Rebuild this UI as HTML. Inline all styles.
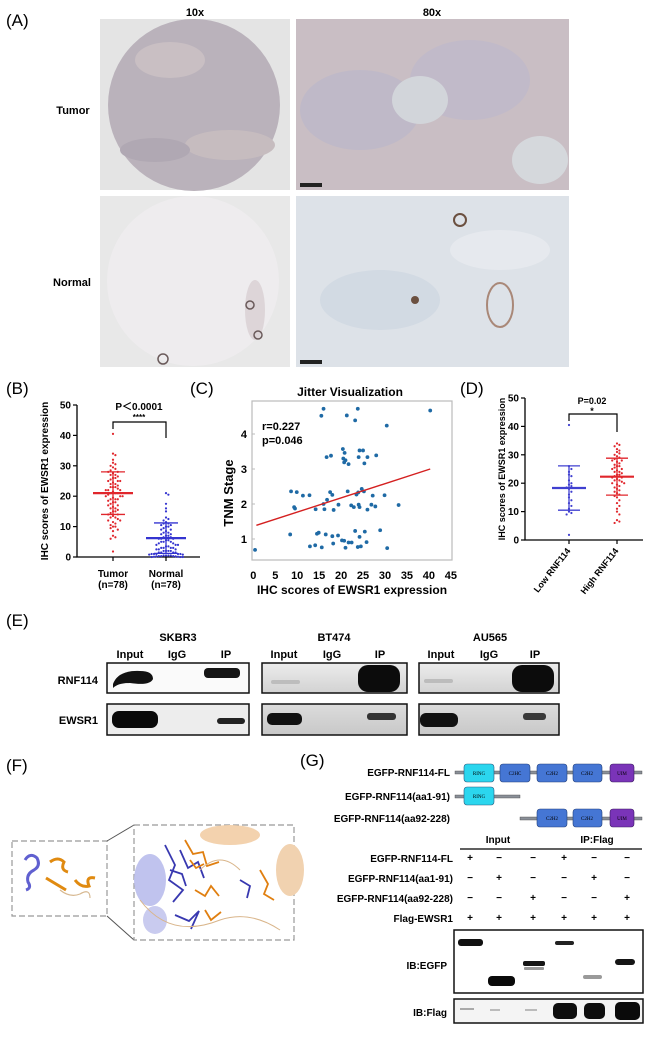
<!DOCTYPE html>
<html><head><meta charset="utf-8">
<style>
html,body{margin:0;padding:0;background:#fff;}
svg{display:block;font-family:"Liberation Sans",Arial,sans-serif;}
.b{font-weight:bold;}
</style></head>
<body>
<svg id="fig" width="654" height="1038" viewBox="0 0 654 1038" xmlns="http://www.w3.org/2000/svg">
<defs>
<linearGradient id="gE" x1="0" y1="0" x2="0" y2="1"><stop offset="0" stop-color="#ececec"/><stop offset="1" stop-color="#d2d2d2"/></linearGradient>
<linearGradient id="gE2" x1="0" y1="0" x2="0" y2="1"><stop offset="0" stop-color="#dcdcdc"/><stop offset="1" stop-color="#c8c8c8"/></linearGradient>
</defs>

<!-- Panel A -->
<g>
<text x="6" y="26" font-size="17">(A)</text>
<text x="195" y="16" font-size="11" class="b" text-anchor="middle">10x</text>
<text x="432" y="16" font-size="11" class="b" text-anchor="middle">80x</text>
<text x="73" y="114" font-size="11" class="b" text-anchor="middle">Tumor</text>
<text x="72" y="286" font-size="11" class="b" text-anchor="middle">Normal</text>
<g>
<rect x="100" y="19" width="190" height="171" fill="#e4e4e4"/>
<ellipse cx="194" cy="105" rx="86" ry="86" fill="#bab2bb"/>
<ellipse cx="170" cy="60" rx="35" ry="18" fill="#c9bfc3"/>
<ellipse cx="230" cy="145" rx="45" ry="15" fill="#c6bcbf"/>
<ellipse cx="155" cy="150" rx="35" ry="12" fill="#b0a8b3"/>
</g>
<g>
<rect x="296" y="19" width="273" height="171" fill="#c9bec4"/>
<ellipse cx="360" cy="110" rx="60" ry="40" fill="#bfb9c8"/>
<ellipse cx="470" cy="80" rx="60" ry="40" fill="#c1bac9"/>
<ellipse cx="420" cy="100" rx="28" ry="24" fill="#d2d5da"/>
<ellipse cx="540" cy="160" rx="28" ry="24" fill="#d5d8dc"/>
<rect x="300" y="183" width="22" height="4" fill="#222"/>
</g>
<g>
<rect x="100" y="196" width="190" height="171" fill="#e8e8e8"/>
<ellipse cx="193" cy="281" rx="86" ry="85" fill="#eeecee"/>
<ellipse cx="255" cy="310" rx="10" ry="30" fill="#ddd5d8"/>
<circle cx="250" cy="305" r="4" fill="none" stroke="#6a5a5a" stroke-width="1.5"/>
<circle cx="258" cy="335" r="4" fill="none" stroke="#6a5a5a" stroke-width="1.5"/>
<circle cx="163" cy="359" r="5" fill="none" stroke="#6a5a5a" stroke-width="1.5"/>
</g>
<g>
<rect x="296" y="196" width="273" height="171" fill="#dde2e8"/>
<ellipse cx="380" cy="300" rx="60" ry="30" fill="#d2dae3"/>
<ellipse cx="500" cy="250" rx="50" ry="20" fill="#e6e9ee"/>
<ellipse cx="500" cy="305" rx="13" ry="22" fill="none" stroke="#a98878" stroke-width="2"/>
<circle cx="460" cy="220" r="6" fill="none" stroke="#6b5040" stroke-width="2"/>
<circle cx="415" cy="300" r="4" fill="#6b5040"/>
<rect x="300" y="360" width="22" height="4" fill="#222"/>
</g>
</g>

<!-- Panel B -->
<g id="pB">
<text x="6" y="394" font-size="17">(B)</text>
<text transform="translate(48,481) rotate(-90)" font-size="10" class="b" text-anchor="middle">IHC scores of EWSR1 expression</text>
<text x="113" y="577" font-size="10" class="b" text-anchor="middle">Tumor</text>
<text x="113" y="588" font-size="10" class="b" text-anchor="middle">(n=78)</text>
<text x="166" y="577" font-size="10" class="b" text-anchor="middle">Normal</text>
<text x="166" y="588" font-size="10" class="b" text-anchor="middle">(n=78)</text>
<text x="139" y="410" font-size="10" class="b" text-anchor="middle">P＜0.0001</text>
<text x="139" y="420" font-size="8" class="b" text-anchor="middle">****</text>
<path d="M113,429 V422 H166 V438" fill="none" stroke="#000" stroke-width="1.2"/>
</g>

<!-- Panel C -->
<g id="pC">
<text x="190" y="394" font-size="17">(C)</text>
<text x="350" y="396" font-size="12" class="b" text-anchor="middle">Jitter Visualization</text>
<rect x="252" y="401" width="200" height="159" fill="none" stroke="#bbb" stroke-width="1.2"/>
<text transform="translate(233,493) rotate(-90)" font-size="13" class="b" text-anchor="middle">TNM Stage</text>
<text x="352" y="594" font-size="12" class="b" text-anchor="middle">IHC scores of EWSR1 expression</text>
<text x="262" y="430" font-size="11" class="b">r=0.227</text>
<text x="262" y="444" font-size="11" class="b">p=0.046</text>
</g>

<!-- Panel D -->
<g id="pD">
<text x="460" y="394" font-size="17">(D)</text>
<text transform="translate(505,469) rotate(-90)" font-size="9" class="b" text-anchor="middle">IHC scores of EWSR1 expression</text>
<text x="592" y="404" font-size="9" class="b" text-anchor="middle">P=0.02</text>
<text x="592" y="414" font-size="9" class="b" text-anchor="middle">*</text>
<path d="M569,421 V414 H617 V432" fill="none" stroke="#000" stroke-width="1.2"/>
<text transform="translate(571,551) rotate(-52)" font-size="9" class="b" text-anchor="end">Low RNF114</text>
<text transform="translate(619,551) rotate(-52)" font-size="9" class="b" text-anchor="end">High RNF114</text>
</g>

<!-- Panel E -->
<g>
<text x="6" y="626" font-size="17">(E)</text>
<text x="178" y="641" font-size="11" class="b" text-anchor="middle">SKBR3</text>
<text x="334" y="641" font-size="11" class="b" text-anchor="middle">BT474</text>
<text x="490" y="641" font-size="11" class="b" text-anchor="middle">AU565</text>
<g font-size="11" class="b" text-anchor="middle">
<text x="130" y="658">Input</text><text x="177" y="658">IgG</text><text x="226" y="658">IP</text>
<text x="284" y="658">Input</text><text x="332" y="658">IgG</text><text x="380" y="658">IP</text>
<text x="441" y="658">Input</text><text x="489" y="658">IgG</text><text x="535" y="658">IP</text>
</g>
<text x="98" y="684" font-size="11" class="b" text-anchor="end">RNF114</text>
<text x="98" y="724" font-size="11" class="b" text-anchor="end">EWSR1</text>
<g>
<rect x="107" y="663" width="142" height="30" fill="#fafafa" stroke="#111" stroke-width="1.5"/>
<rect x="107" y="704" width="142" height="31" fill="#ededed" stroke="#111" stroke-width="1.5"/>
<path d="M113,684 Q118,670 140,671 Q153,671 153,679 Q150,686 130,683 Q118,683 113,688Z" fill="#111"/>
<rect x="204" y="668" width="36" height="10" rx="4" fill="#151515"/>
<rect x="112" y="711" width="46" height="17" rx="7" fill="#0a0a0a"/>
<rect x="217" y="718" width="28" height="6" rx="3" fill="#222"/>
</g>
<g>
<rect x="262" y="663" width="145" height="30" fill="url(#gE)" stroke="#111" stroke-width="1.5"/>
<rect x="262" y="704" width="145" height="31" fill="url(#gE2)" stroke="#111" stroke-width="1.5"/>
<rect x="271" y="680" width="29" height="4" rx="2" fill="#bdbdbd"/>
<rect x="358" y="665" width="42" height="27" rx="10" fill="#0c0c0c"/>
<rect x="267" y="713" width="35" height="12" rx="5" fill="#111"/>
<rect x="367" y="713" width="29" height="7" rx="3" fill="#333"/>
</g>
<g>
<rect x="419" y="663" width="140" height="30" fill="url(#gE)" stroke="#111" stroke-width="1.5"/>
<rect x="419" y="704" width="140" height="31" fill="url(#gE2)" stroke="#111" stroke-width="1.5"/>
<rect x="424" y="679" width="29" height="4" rx="2" fill="#bcbcbc"/>
<rect x="512" y="665" width="42" height="27" rx="10" fill="#0c0c0c"/>
<rect x="420" y="713" width="38" height="14" rx="6" fill="#111"/>
<rect x="523" y="713" width="23" height="7" rx="3" fill="#3a3a3a"/>
</g>
</g>

<!-- Panel F -->
<g>
<text x="6" y="771" font-size="17">(F)</text>
<rect x="12" y="841" width="95" height="75" fill="none" stroke="#999" stroke-width="1.2" stroke-dasharray="6,3"/>
<path d="M107,841 L134,825 M107,916 L134,940" stroke="#555" stroke-width="1"/>
<rect x="134" y="825" width="160" height="115" fill="none" stroke="#999" stroke-width="1.2" stroke-dasharray="6,3"/>
<g>
<path d="M25,860 q5,-8 12,-2 q4,8 -3,12 q-8,4 -6,12 q4,6 -2,8" stroke="#6060d0" stroke-width="3" fill="none"/>
<path d="M50,862 q8,-6 14,0 q-4,8 4,10 M46,878 l20,12 M75,880 q6,8 14,6 q-4,-10 6,-8" stroke="#e08a10" stroke-width="3" fill="none"/>
<path d="M60,890 q10,8 20,4 q10,-6 10,4" stroke="#d7b890" stroke-width="1.2" fill="none"/>
</g>
<g>
<ellipse cx="150" cy="880" rx="16" ry="26" fill="#c0c3ee"/>
<ellipse cx="155" cy="920" rx="12" ry="14" fill="#c9cbef"/>
<ellipse cx="230" cy="835" rx="30" ry="10" fill="#f3d2ae"/>
<ellipse cx="290" cy="870" rx="14" ry="26" fill="#f1d2b0"/>
<path d="M165,845 l10,20 l-6,15 l14,10 l-10,12 M180,850 l8,18 l10,-6 l6,16 M175,915 l14,6 l10,-10 l-8,18 M240,880 l10,6 l-3,12 M170,870 l12,4 l4,12" stroke="#3838b0" stroke-width="1.8" fill="none"/>
<path d="M185,840 l8,14 l10,-2 l4,14 l12,-4 M195,890 l10,6 l6,-10 l8,10 M205,910 l6,10 l10,-8 M260,870 l8,14 l-4,10 l10,6 M190,860 l6,8 l8,-4" stroke="#e07f10" stroke-width="1.8" fill="none"/>
<path d="M140,900 q30,40 80,20 q30,-10 60,10 M200,870 q20,-20 40,0" stroke="#d9b58a" stroke-width="1" fill="none"/>
</g>
</g>

<!-- Panel G -->
<g>
<text x="300" y="766" font-size="17">(G)</text>
<g font-size="10" class="b" text-anchor="end">
<text x="450" y="776">EGFP-RNF114-FL</text>
<text x="450" y="800">EGFP-RNF114(aa1-91)</text>
<text x="450" y="822">EGFP-RNF114(aa92-228)</text>
</g>
<g font-size="5" font-family="Liberation Serif,serif" text-anchor="middle">
<rect x="455" y="771" width="187" height="3" fill="#8a9098" stroke="#444" stroke-width="0.4"/>
<rect x="464" y="764" width="30" height="18" rx="3" fill="#2bd6ee" stroke="#2a5a80" stroke-width="0.6"/><text x="479" y="775">RING</text>
<rect x="500" y="764" width="30" height="18" rx="3" fill="#4576d4" stroke="#24407a" stroke-width="0.6"/><text x="515" y="775">C2HC</text>
<rect x="537" y="764" width="30" height="18" rx="3" fill="#4576d4" stroke="#24407a" stroke-width="0.6"/><text x="552" y="775">C2H2</text>
<rect x="573" y="764" width="29" height="18" rx="3" fill="#4576d4" stroke="#24407a" stroke-width="0.6"/><text x="587" y="775">C2H2</text>
<rect x="610" y="764" width="24" height="18" rx="3" fill="#7a34b8" stroke="#3a1a60" stroke-width="0.6"/><text x="622" y="775">UIM</text>
<rect x="455" y="795" width="65" height="3" fill="#8a9098" stroke="#444" stroke-width="0.4"/>
<rect x="464" y="787" width="30" height="18" rx="3" fill="#2bd6ee" stroke="#2a5a80" stroke-width="0.6"/><text x="479" y="798">RING</text>
<rect x="520" y="817" width="122" height="3" fill="#8a9098" stroke="#444" stroke-width="0.4"/>
<rect x="537" y="809" width="30" height="18" rx="3" fill="#4576d4" stroke="#24407a" stroke-width="0.6"/><text x="552" y="820">C2H2</text>
<rect x="573" y="809" width="29" height="18" rx="3" fill="#4576d4" stroke="#24407a" stroke-width="0.6"/><text x="587" y="820">C2H2</text>
<rect x="610" y="809" width="24" height="18" rx="3" fill="#7a34b8" stroke="#3a1a60" stroke-width="0.6"/><text x="622" y="820">UIM</text>
</g>
<text x="498" y="843" font-size="10" class="b" text-anchor="middle">Input</text>
<text x="597" y="843" font-size="10" class="b" text-anchor="middle">IP:Flag</text>
<line x1="460" y1="849" x2="642" y2="849" stroke="#000" stroke-width="1.2"/>
<g font-size="10" class="b" text-anchor="end">
<text x="453" y="862">EGFP-RNF114-FL</text>
<text x="453" y="882">EGFP-RNF114(aa1-91)</text>
<text x="453" y="902">EGFP-RNF114(aa92-228)</text>
<text x="453" y="922">Flag-EWSR1</text>
</g>
<g id="gSigns" font-size="10" class="b" text-anchor="middle"></g>
<text x="447" y="969" font-size="10" class="b" text-anchor="end">IB:EGFP</text>
<text x="447" y="1016" font-size="10" class="b" text-anchor="end">IB:Flag</text>
<g>
<rect x="454" y="930" width="189" height="63" fill="#fff" stroke="#111" stroke-width="1.5"/>
<rect x="458" y="939" width="25" height="7" rx="3" fill="#111"/>
<rect x="488" y="976" width="27" height="10" rx="4" fill="#0a0a0a"/>
<rect x="523" y="961" width="22" height="5" rx="2" fill="#151515"/>
<rect x="524" y="967" width="20" height="3" rx="1" fill="#999"/>
<rect x="555" y="941" width="19" height="4" rx="2" fill="#222"/>
<rect x="583" y="975" width="19" height="4" rx="2" fill="#9a9a9a"/>
<rect x="615" y="959" width="20" height="6" rx="3" fill="#151515"/>
</g>
<g>
<rect x="454" y="999" width="189" height="24" fill="#f4f4f4" stroke="#111" stroke-width="1.5"/>
<rect x="460" y="1008" width="14" height="2" fill="#aaa"/>
<rect x="490" y="1009" width="10" height="2" fill="#bbb"/>
<rect x="525" y="1009" width="12" height="2" fill="#bbb"/>
<rect x="553" y="1003" width="24" height="16" rx="5" fill="#0e0e0e"/>
<rect x="584" y="1003" width="21" height="16" rx="5" fill="#0e0e0e"/>
<rect x="615" y="1002" width="25" height="18" rx="5" fill="#0a0a0a"/>
</g>
</g>
</svg>

<script>
const NS="http://www.w3.org/2000/svg";
// ---- Panel B data ----
const bCategories=["Tumor","Normal"];
const bTicks=[0,10,20,30,40,50];
const bTumor=[40.5,34,33.5,32,31,30.5,30,29.5,29,28.5,28,28,27.5,27,27,26.5,26,26,25.5,25,25,25,24.5,24,24,23.5,23,23,23,22.5,22,22,22,21.5,21,21,21,20.5,20,20,20,19.5,19,19,19,18.5,18,18,17.5,17,17,16.5,16,16,15.5,15,15,14.5,14,14,13.5,13,13,12.5,12,12,11.5,11,10.5,10,10,9.5,9,8.5,7,6.5,6,1.8];
const bNormal=[21,20.5,17.5,16,15,13,12.5,12,11.5,11,11,10.5,10.5,10,10,9.5,9,9,8.5,8,8,7.5,7.5,7,7,6.5,6.5,6,6,6,5.5,5.5,5,5,5,4.5,4.5,4,4,4,3.5,3.5,3,3,3,3,2.5,2.5,2.5,2,2,2,2,1.5,1.5,1.5,1.5,1,1,1,1,1,0.8,0.8,0.5,0.5,0.5,0.5,0.3,0.3,0.3,0.2,0.2,0.1,0.1,0,0,0];
const bMean=[21,6.2];
const bSD=[7,5];
// ---- Panel C data ----
const cXTicks=[0,5,10,15,20,25,30,35,40,45];
const cYTicks=[1,2,3,4];
const cScore=[0.4,16,15.5,21.3,23.8,23.2,40.3,30.4,16.7,17.7,20.4,20.8,20.5,21,21.7,20.7,24.2,25,24,25.3,26,28,8.6,9.9,11.3,12.8,9.3,9.5,14.2,16.2,16,16.8,17.5,18,18.3,19.4,21.5,22.3,22.9,23.5,24,24.2,24.7,25.2,26,26.9,27.2,27.8,29.9,33.1,23.9,8.4,12.9,14.1,14.5,14.9,15.6,16.5,18,18.2,19.3,20.2,20.7,21,21.7,22.4,23.2,23.8,24.5,24.2,25.4,25.8,28.9,30.5];
const cStage=[0.69,4.72,4.52,4.53,4.72,4.39,4.67,4.24,3.34,3.38,3.57,3.46,3.30,3.25,3.14,3.19,3.53,3.53,3.34,3.16,3.34,3.39,2.36,2.34,2.24,2.25,1.91,1.87,1.85,1.85,2.0,2.12,2.34,2.26,1.83,1.98,2.36,1.96,1.91,2.27,1.98,1.91,2.43,2.36,1.84,1.98,2.24,1.93,2.25,1.97,2.33,1.13,0.79,0.82,1.15,1.18,0.76,1.13,1.08,0.87,1.1,0.96,0.95,0.75,0.9,0.9,1.23,0.77,0.79,1.06,1.21,0.91,1.25,0.74];
const cFitX=[0.7,40.3];
const cFitY=[1.39,3.0];
// ---- Panel D data ----
const dCategories=["Low RNF114","High RNF114"];
const dTicks=[0,10,20,30,40,50];
const dLow=[40.5,26,25,24,23,22.5,21,20,19.5,19,18.5,18,17,16,15,14,13,12,11,10,9.5,9,1.8];
const dHigh=[34,33.5,33,32,31.5,31,30.5,30,29.5,29,28.5,28,28,27.5,27,26.5,26,26,25.5,25,25,24.5,24,24,23.5,23,23,22.5,22,22,21.5,21,21,20.5,20,20,19.5,19,18.5,18,17.5,17,16.5,16,15.5,15,14,13,12,11,10,9,7,6.5,6];
const dMean=[18.3,22.3];
const dSD=[7.8,6.5];
// ---- Panel G data ----
const gSigns=[["+","−","−","+","−","−"],["−","+","−","−","+","−"],["−","−","+","−","−","+"],["+","+","+","+","+","+"]];

function mk(tag,attrs,parent){const e=document.createElementNS(NS,tag);for(const k in attrs)e.setAttribute(k,attrs[k]);parent.appendChild(e);return e;}

function dotPlot(g,opts){
  const y=v=>opts.y0-(v/50)*(opts.y0-opts.y50);
  const ax=mk("path",{d:`M${opts.ax},${opts.y50} V${opts.y0} H${opts.axEnd}`,fill:"none",stroke:"#000","stroke-width":1.3},g);
  
  
  opts.ticks.forEach(t=>{
    const tk=mk("line",{x1:opts.ax-4,x2:opts.ax,y1:y(t),y2:y(t),stroke:"#000","stroke-width":1.2},g);
    
    
    const tl=mk("text",{x:opts.ax-6,y:y(t)+3.5,"font-size":10,"font-weight":"bold","text-anchor":"end"},g);
    tl.textContent=t;
    
    
  });
  opts.cats.forEach((c,ci)=>{
    const cx=opts.xs[ci];
    const tk=mk("line",{x1:cx,x2:cx,y1:opts.y0,y2:opts.y0+4,stroke:"#000","stroke-width":1.2},g);
    
    
    const vals=opts.series[ci];
    const counts={};
    vals.forEach((v,i)=>{
      const bin=Math.round(v/1.6);
      const k=counts[bin]||0;counts[bin]=k+1;
      const off=(k%2?1:-1)*Math.ceil(k/2)*2.4;
      const d=mk("circle",{cx:cx+off,cy:y(v),r:1.1,fill:opts.col[ci]},g);
      
      
    });
    const m=opts.mean[ci],s=opts.sd[ci];
    const ml=mk("line",{x1:cx-opts.mw,x2:cx+opts.mw,y1:y(m),y2:y(m),stroke:opts.col[ci],"stroke-width":2.2},g);
    
    
    const el=mk("path",{d:`M${cx},${y(m-s)} V${y(m+s)} M${cx-opts.ew},${y(m-s)} H${cx+opts.ew} M${cx-opts.ew},${y(m+s)} H${cx+opts.ew}`,stroke:opts.col[ci],"stroke-width":1.3,fill:"none"},g);
    
    
  });
}
dotPlot(document.getElementById("pB"),{pre:"b",ax:77,axEnd:200,y0:557,y50:405,ticks:bTicks,cats:bCategories,xs:[113,166],series:[bTumor,bNormal],mean:bMean,sd:bSD,col:["#e0262c","#3434d0"],mw:20,ew:12});
dotPlot(document.getElementById("pD"),{pre:"d",ax:525,axEnd:643,y0:540,y50:398,ticks:dTicks,cats:dCategories,xs:[569,617],series:[dLow,dHigh],mean:dMean,sd:dSD,col:["#4040d0","#e0262c"],mw:17,ew:11});

// Panel C
(function(){
  const g=document.getElementById("pC");
  const X=v=>253.3+v*4.39;
  const Y=v=>539-(v-1)*35;
  cXTicks.forEach(t=>{
    const tl=mk("text",{x:X(t),y:579,"font-size":11,"font-weight":"bold","text-anchor":"middle"},g);
    tl.textContent=t;
    
    
  });
  cYTicks.forEach(t=>{
    const tl=mk("text",{x:247,y:Y(t)+4,"font-size":11,"font-weight":"bold","text-anchor":"end"},g);
    tl.textContent=t;
    
    
    const tk=mk("line",{x1:252,x2:255,y1:Y(t),y2:Y(t),stroke:"#bbb"},g);
    
    
  });
  cScore.forEach((v,i)=>{
    const p=mk("circle",{cx:X(v),cy:Y(cStage[i]),r:1.9,fill:"#1f6aa5"},g);
    
    
  });
  const l=mk("line",{x1:X(cFitX[0]),y1:Y(cFitY[0]),x2:X(cFitX[1]),y2:Y(cFitY[1]),stroke:"#d42020","stroke-width":1.4},g);
  
  
})();

// Panel G signs
(function(){
  const g=document.getElementById("gSigns");
  const cols=[470,499,533,564,594,627];
  gSigns.forEach((row,ri)=>row.forEach((s,ci)=>{
    const t=mk("text",{x:cols[ci],y:861+ri*20},g);
    t.textContent=s;
    
    
  }));
})();
</script>
</body></html>
